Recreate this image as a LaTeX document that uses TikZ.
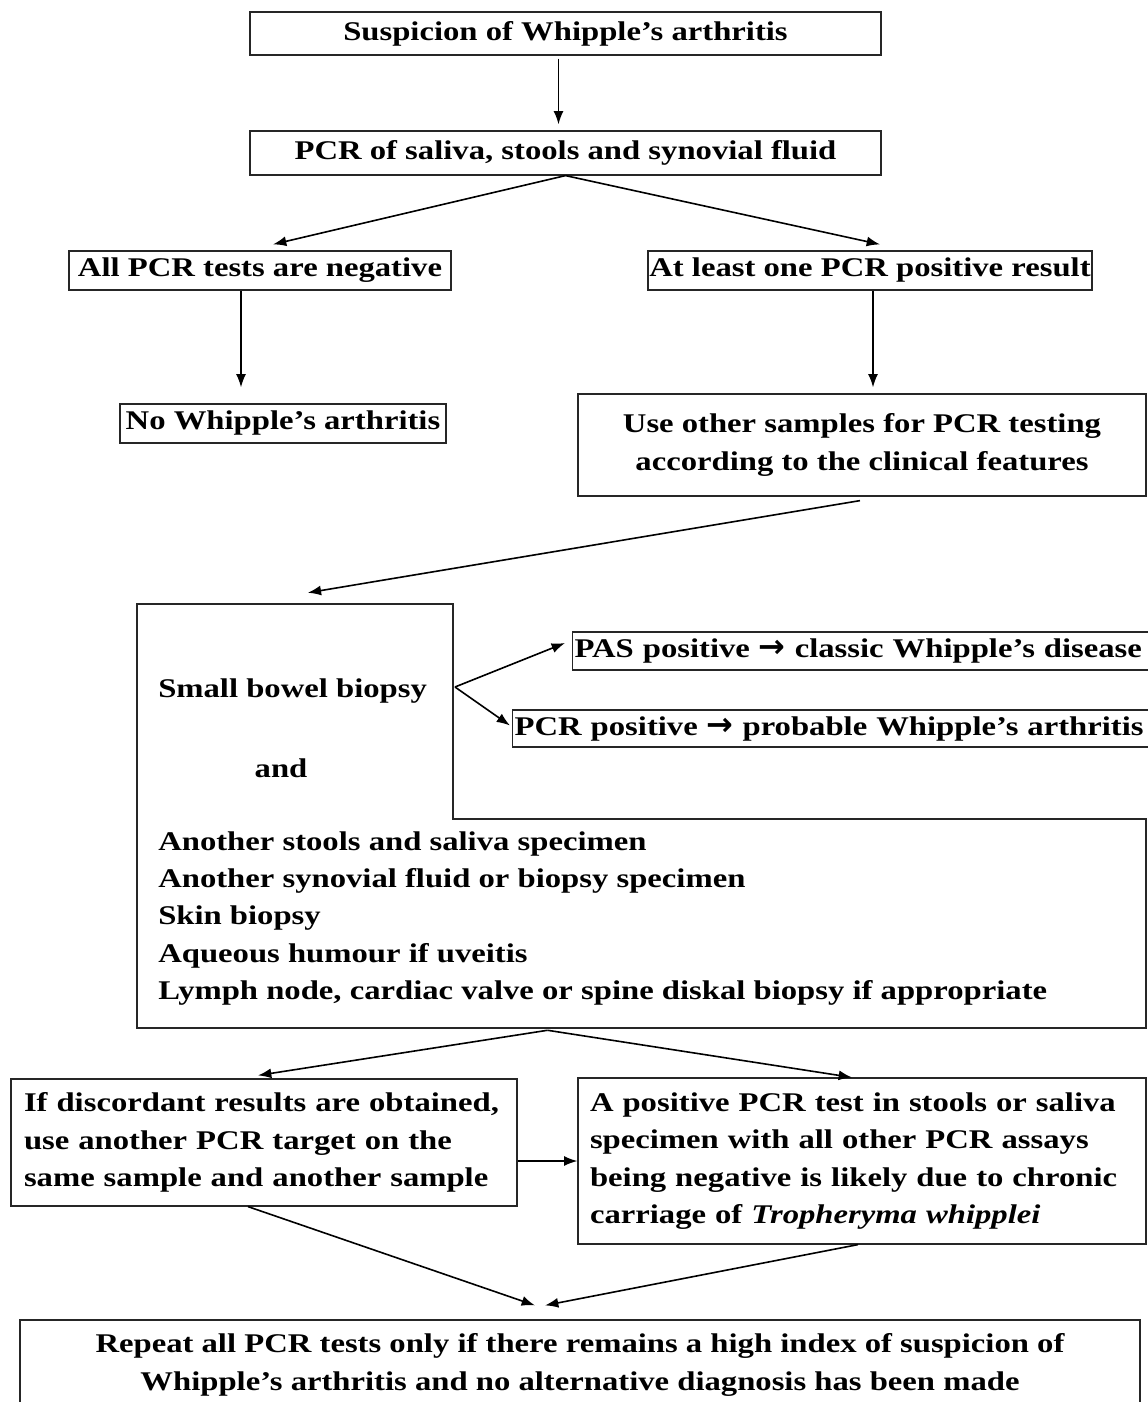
\documentclass[tikz,border=0pt]{standalone}
\usepackage{fontspec}
\setmainfont{Liberation Serif}[FakeStretch=1.21]
\newfontfamily\symfont{DejaVu Sans}
\newcommand{\thickarrow}{{\symfont\bfseries\fontsize{24pt}{28pt}\selectfont →}}
\usetikzlibrary{arrows.meta,calc}

\begin{document}
\begin{tikzpicture}[x=0.75pt, y=-0.75pt,
    box/.style={rectangle, draw=black!85, line width=0.9pt, inner sep=0pt, align=center, font=\fontsize{20.25pt}{28.1pt}\selectfont\bfseries},
    txt/.style={inner sep=0pt, font=\fontsize{20.25pt}{28.1pt}\selectfont\bfseries},
    arr/.style={-{Latex[length=10pt,width=7.5pt]}, line width=1.2pt}
]
\useasboundingbox (0,0) rectangle (1147,1402);
\fill[white] (0,0) rectangle (1147,1402);

\node[box, minimum width=473.25pt, minimum height=32.25pt] (susp) at (565.5,33.5) {Suspicion of Whipple’s arthritis};
\node[box, minimum width=473.25pt, minimum height=33pt] (pcr) at (565.5,153) {PCR of saliva, stools and synovial fluid};
\node[box, minimum width=286.5pt, minimum height=29.25pt] (neg) at (260,270.5) {All PCR tests are negative};
\node[box, minimum width=333pt, minimum height=29.25pt] (posres) at (870,270.5) {At least one PCR positive result};
\node[box, minimum width=244.5pt, minimum height=29.25pt] (nowa) at (283,423.5) {No Whipple’s arthritis};
\node[box, minimum width=426pt, minimum height=76.5pt] (other) at (862,445) {Use other samples for PCR testing\\according to the clinical features};

\node[minimum width=756.75pt, minimum height=318pt, inner sep=0pt] (samples) at (641.5,816) {};
\draw[draw=black!85, line width=0.9pt] (137,604) -- (453,604) -- (453,819) -- (1146,819) -- (1146,1028) -- (137,1028) -- cycle;
\node[txt, anchor=west] (bowel) at (158,691) {Small bowel biopsy};
\node[txt] (and) at (281,768) {and};
\node[txt, anchor=west, align=left] (tests) at (158,918.5) {Another stools and saliva specimen\\Another synovial fluid or biopsy specimen\\Skin biopsy\\Aqueous humour if uveitis\\Lymph node, cardiac valve or spine diskal biopsy if appropriate};
\coordinate (fork) at (455,687);

\node[box, anchor=west, align=left, text width=450pt, inner xsep=1.5pt, minimum height=28.5pt] (pas) at (572,651) {PAS positive \thickarrow{} classic Whipple’s disease};
\node[box, anchor=west, align=left, text width=495pt, inner xsep=1.5pt, minimum height=27.75pt] (pcrpos) at (512,728.5) {PCR positive \thickarrow{} probable Whipple’s arthritis};

\node[box, align=left, text width=360pt, minimum width=379.5pt, minimum height=95.25pt] (disc) at (264,1142.5) {If discordant results are obtained,\\use another PCR target on the\\same sample and another sample};
\node[box, align=left, text width=408pt, inner xsep=9pt, minimum height=124.5pt] (carr) at (862,1161) {A positive PCR test in stools or saliva\\specimen with all other PCR assays\\being negative is likely due to chronic\\carriage of \textit{Tropheryma whipplei}};
\node[box, minimum width=840pt, minimum height=67.5pt] (repeat) at (580,1365) {Repeat all PCR tests only if there remains a high index of suspicion of\\Whipple’s arthritis and no alternative diagnosis has been made};

\draw[arr] ($(susp.south)+(-7,3)$) -- ($(pcr.north)+(-7,-6)$);
\draw[arr] (pcr.south) -- ($(neg.north)+(13,-6)$);
\draw[arr] (pcr.south) -- ($(posres.north)+(10,-6)$);
\draw[arr] ($(neg.south)+(-19,0)$) -- ($(neg.south |- nowa.north)+(-19,-16)$);
\draw[arr] ($(posres.south)+(3,0)$) -- ($(posres.south |- other.north)+(3,-6)$);
\draw[arr] ($(other.south)+(-2,4)$) -- ($(samples.north west)+(171,-11)$);
\draw[arr] (fork) -- ($(pas.west)+(-7,-8)$);
\draw[arr] (fork) -- ($(pcrpos.west)+(-2,-3)$);
\draw[arr] ($(samples.south)+(-94,2)$) -- ($(disc.north)+(-6,-3)$);
\draw[arr] ($(samples.south)+(-94,2)$) -- ($(carr.north)+(-10,0)$);
\draw[arr] (disc.east |- carr.west) -- (carr.west);
\draw[arr] ($(disc.south)+(-16,0)$) -- ($(repeat.north)+(-45,-14)$);
\draw[arr] ($(carr.south)+(-4,0)$) -- ($(repeat.north)+(-35,-14)$);
\end{tikzpicture}
\end{document}
